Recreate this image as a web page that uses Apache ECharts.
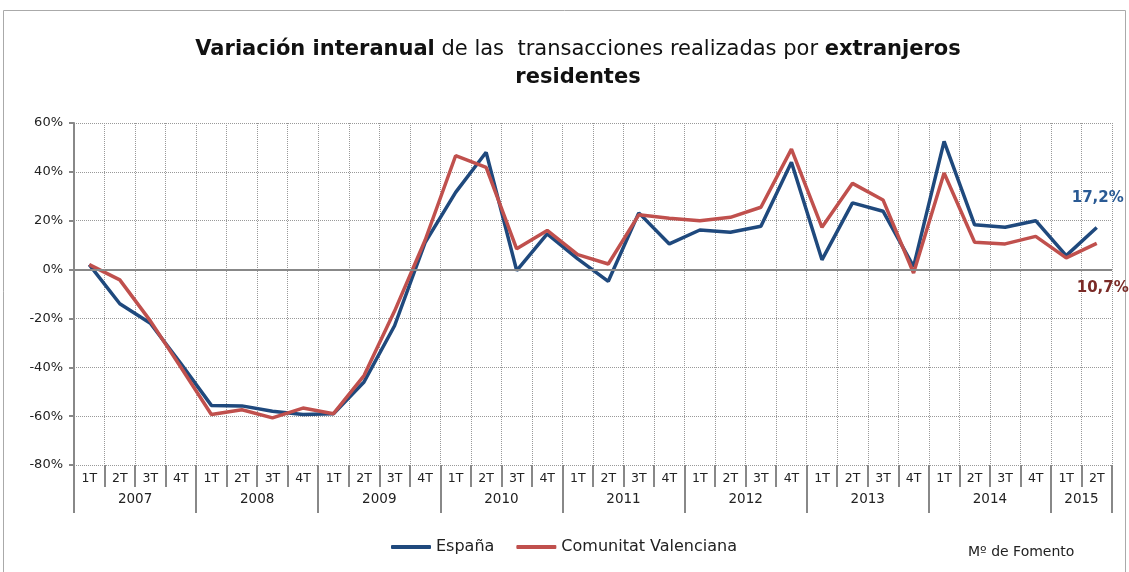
<!DOCTYPE html>
<html lang="es">
<head>
<meta charset="utf-8">
<title>Variación interanual transacciones extranjeros residentes</title>
<style>
* { margin: 0; padding: 0; }
#chart-container { position: relative; width: 1129px; height: 572px; overflow: hidden; background: #fff; }
</style>
</head>
<body>
<div id="chart-container"></div>
<script src="https://cdn.jsdelivr.net/npm/echarts@6/dist/echarts.min.js"></script>
<script>
// quarters and years (one entry per quarter)
const quarters = ['1T','2T','3T','4T','1T','2T','3T','4T','1T','2T','3T','4T','1T','2T','3T','4T',
  '1T','2T','3T','4T','1T','2T','3T','4T','1T','2T','3T','4T','1T','2T','3T','4T','1T','2T'];
const years = ['2007','2007','2007','2007','2008','2008','2008','2008','2009','2009','2009','2009',
  '2010','2010','2010','2010','2011','2011','2011','2011','2012','2012','2012','2012',
  '2013','2013','2013','2013','2014','2014','2014','2014','2015','2015'];

// variación interanual (%)
const espana = [2, -14, -22, -38.5, -55.6, -55.8, -58, -59.3, -59, -46, -23, 11,
  31.6, 48, -0.4, 14.6, 4.4, -4.8, 23.2, 10.5, 16.2, 15.3, 17.7, 43.9,
  4, 27.3, 23.9, 1.2, 52.5, 18.3, 17.3, 20, 5.7, 17.2];
const valencia = [2, -4.2, -21, -40, -59.3, -57.4, -60.7, -56.7, -59, -43.4, -17, 12,
  46.6, 41.8, 8.5, 16, 6.1, 2.3, 22.4, 21, 20, 21.4, 25.5, 49.3,
  17.3, 35.3, 28.5, -1.4, 39.5, 11.2, 10.5, 13.6, 4.8, 10.7];

const yTicks = { min: -80, max: 60, interval: 20 };

const FONT = '"DejaVu Sans", sans-serif';
const BLUE = '#1f497d';
const RED = '#c0504d';
const CAT_W = 1038 / quarters.length;

// year label sits on the middle of its quarters
function yearFirstIndex(i) { return i === 0 || years[i] !== years[i - 1]; }
function yearCount(i) { return years.filter(y => y === years[i]).length; }

function withLastLabel(arr, label) {
  return arr.map((v, i) => i === arr.length - 1
    ? { value: v, symbol: 'circle', symbolSize: 2, itemStyle: { color: 'rgba(0,0,0,0)' }, label: label }
    : v);
}
function pct(v) { return String(v).replace('.', ',') + '%'; }

var dom = document.getElementById('chart-container');
var myChart = echarts.init(dom, null, { renderer: 'canvas' });

var option = {
  animation: false,
  title: {
    text: '{b|Variación interanual} de las  transacciones realizadas por {b|extranjeros}\n{b|residentes}',
    left: 573,
    top: 31,
    textAlign: 'center',
    textStyle: {
      fontFamily: FONT, fontSize: 21, fontWeight: 'normal', color: '#111', lineHeight: 28,
      rich: {
        b: { fontFamily: FONT, fontSize: 21, fontWeight: 'bold', color: '#111', lineHeight: 28 }
      }
    }
  },
  legend: {
    left: 386,
    top: 534,
    itemWidth: 40,
    itemHeight: 4,
    itemGap: 22,
    icon: 'roundRect',
    textStyle: { fontFamily: FONT, fontSize: 16, color: '#222' },
    data: ['España', 'Comunitat Valenciana']
  },
  grid: { left: 74, right: 17, top: 123, bottom: 107 },
  xAxis: [
    {
      type: 'category',
      data: quarters,
      boundaryGap: true,
      axisLine: { show: false, onZero: false },
      axisTick: { show: true, interval: 0, length: 22, lineStyle: { color: '#888', width: 2 } },
      axisLabel: { interval: 0, margin: 7, fontFamily: FONT, fontSize: 12.5, color: '#222' },
      splitLine: { show: true, interval: 0, lineStyle: { type: 'dotted', color: '#999' } }
    },
    {
      type: 'category',
      data: years,
      position: 'bottom',
      boundaryGap: true,
      axisLine: { show: false, onZero: false },
      axisTick: {
        show: true, length: 48, lineStyle: { color: '#888', width: 2 },
        interval: function (i) { return yearFirstIndex(i); }
      },
      axisLabel: {
        margin: 27,
        hideOverlap: false,
        interval: function (i) { return yearFirstIndex(i); },
        formatter: function (v, i) {
          return '{y' + yearCount(i) + '|' + v + '}';
        },
        rich: {
          y4: { fontFamily: FONT, fontSize: 13.5, color: '#222', padding: [0, 0, 0, 3 * CAT_W] },
          y2: { fontFamily: FONT, fontSize: 13.5, color: '#222', padding: [0, 0, 0, CAT_W] }
        }
      },
      splitLine: { show: false }
    }
  ],
  yAxis: {
    type: 'value',
    min: yTicks.min,
    max: yTicks.max,
    interval: yTicks.interval,
    axisLine: { show: true, lineStyle: { color: '#888', width: 2 } },
    axisTick: { show: true, length: 5, lineStyle: { color: '#888', width: 2 } },
    axisLabel: { formatter: '{value}%', fontFamily: FONT, fontSize: 13, color: '#222', margin: 11 },
    splitLine: { show: true, lineStyle: { type: 'dotted', color: '#999' } }
  },
  series: [
    {
      name: 'España',
      type: 'line',
      symbol: 'none',
      showSymbol: true,
      lineStyle: { color: BLUE, width: 3.5 },
      itemStyle: { color: BLUE },
      data: withLastLabel(espana, {
        show: true, position: 'top', distance: 21, offset: [1, 0],
        formatter: function (p) { return pct(p.value); },
        fontFamily: FONT, fontSize: 15, fontWeight: 'bold', color: '#2a5a94'
      }),
      markLine: {
        silent: true, symbol: 'none', label: { show: false },
        lineStyle: { color: '#888', type: 'solid', width: 2 },
        data: [{ yAxis: 0 }]
      },
      z: 3
    },
    {
      name: 'Comunitat Valenciana',
      type: 'line',
      symbol: 'none',
      showSymbol: true,
      lineStyle: { color: RED, width: 3.5 },
      itemStyle: { color: RED },
      data: withLastLabel(valencia, {
        show: true, position: 'bottom', distance: 36, offset: [6, 0],
        formatter: function (p) { return pct(p.value); },
        fontFamily: FONT, fontSize: 15, fontWeight: 'bold', color: '#7a2b27'
      }),
      z: 4
    }
  ],
  graphic: [
    {
      type: 'rect', silent: true,
      shape: { x: 3.5, y: 10.5, width: 1122, height: 580 },
      style: { fill: 'none', stroke: '#aaa', lineWidth: 1 }
    },
    {
      type: 'text', left: 968, top: 545,
      style: { text: 'Mº de Fomento', fontFamily: FONT, fontSize: 14, fill: '#222' }
    }
  ]
};

myChart.setOption(option);
window.addEventListener('resize', myChart.resize);
</script>
</body>
</html>
